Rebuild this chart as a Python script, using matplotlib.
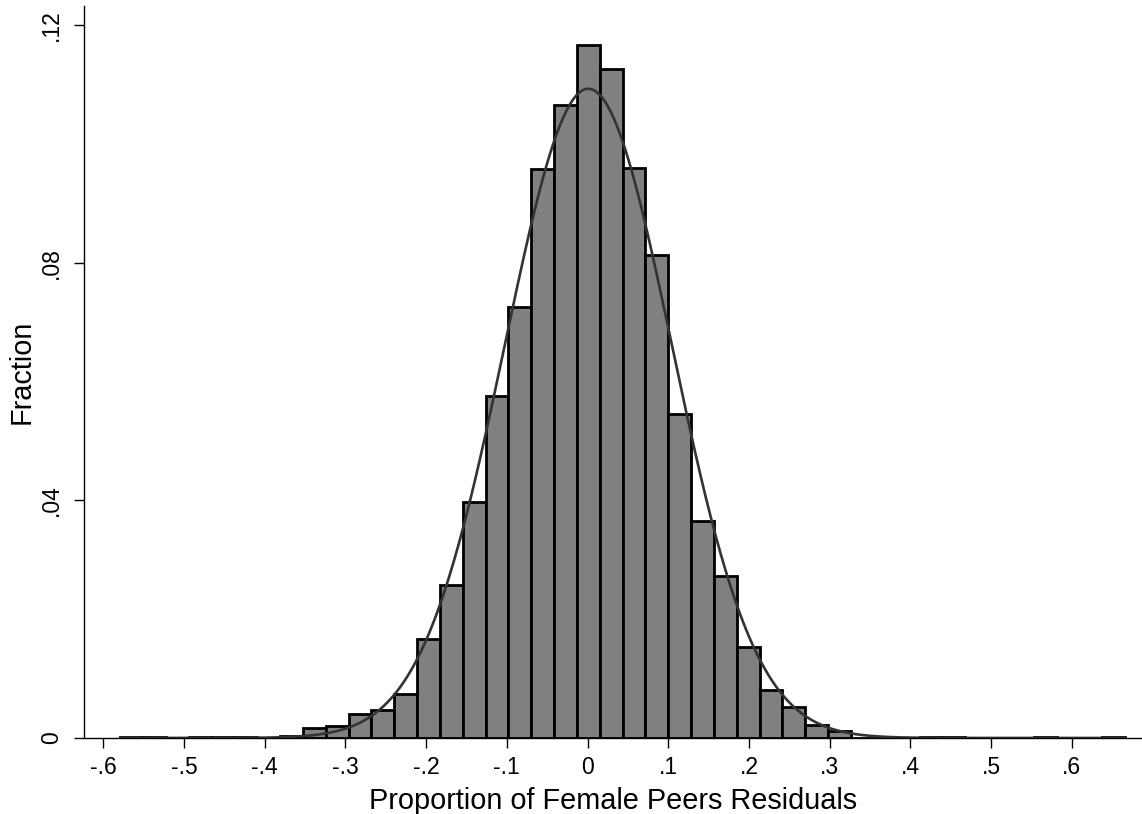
import numpy as np
import matplotlib
matplotlib.use("Agg")
import matplotlib.pyplot as plt

plt.rcParams['font.family'] = ['Liberation Sans', 'DejaVu Sans']

# Histogram: 44 bins between min and max of the residuals
x_min = -0.579
x_max = 0.666
n_bins = 44

# bar heights (fraction)
fractions = [
    0.0002, 0.0002, 0.0, 0.0002, 0.0002, 0.0001, 0.0, 0.0003,
    0.00165, 0.0020, 0.0041, 0.00475, 0.0074, 0.0166, 0.0258, 0.0397,
    0.0575, 0.0726, 0.0957, 0.1066, 0.1166, 0.1126, 0.0960, 0.0813,
    0.0545, 0.0366, 0.0272, 0.0153, 0.0080, 0.0052, 0.0021, 0.0011,
    0.0, 0.0, 0.0, 0.0002, 0.0002, 0.0, 0.0, 0.0,
    0.0002, 0.0, 0.0, 0.0002,
]

# normal overlay parameters
mu = 0.001
sigma = 0.1033

x_ticks = [-0.6, -0.5, -0.4, -0.3, -0.2, -0.1, 0, 0.1, 0.2, 0.3, 0.4, 0.5, 0.6]
x_tick_labels = ["-.6", "-.5", "-.4", "-.3", "-.2", "-.1", "0", ".1", ".2", ".3", ".4", ".5", ".6"]
y_ticks = [0, 0.04, 0.08, 0.12]
y_tick_labels = ["0", ".04", ".08", ".12"]

edges = np.linspace(x_min, x_max, n_bins + 1)
width = edges[1] - edges[0]

fig = plt.figure(figsize=(11.42, 8.14), dpi=100)
ax = fig.add_axes([0.0736, 0.0934, 0.9264, 0.8992])

ax.bar(edges[:-1], fractions, width=width, align='edge',
       color='#808080', edgecolor='black', linewidth=2.0, zorder=2)

xs = np.linspace(x_min, x_max, 600)
dens = width * np.exp(-0.5 * ((xs - mu) / sigma) ** 2) / (sigma * np.sqrt(2 * np.pi))
ax.plot(xs, dens, color='#333333', linewidth=1.9, zorder=3)

ax.set_xlim(-0.6238, 0.687)
ax.set_ylim(0, 0.1232)

ax.set_xticks(x_ticks)
ax.set_xticklabels(x_tick_labels, fontsize=16.5)
ax.set_yticks(y_ticks)
ax.set_yticklabels(y_tick_labels, fontsize=16.5, rotation=90, va='center')

ax.tick_params(axis='x', length=7, width=1, color='black', pad=6)
ax.tick_params(axis='y', length=7, width=1, color='black', pad=8)
for side in ['top', 'right']:
    ax.spines[side].set_visible(False)
for side in ['left', 'bottom']:
    ax.spines[side].set_linewidth(1)
    ax.spines[side].set_zorder(4)

ax.set_xlabel("Proportion of Female Peers Residuals", fontsize=20.8, labelpad=6)
ax.set_ylabel("Fraction", fontsize=20.8, labelpad=3)

fig.savefig("out.png", dpi=100)
